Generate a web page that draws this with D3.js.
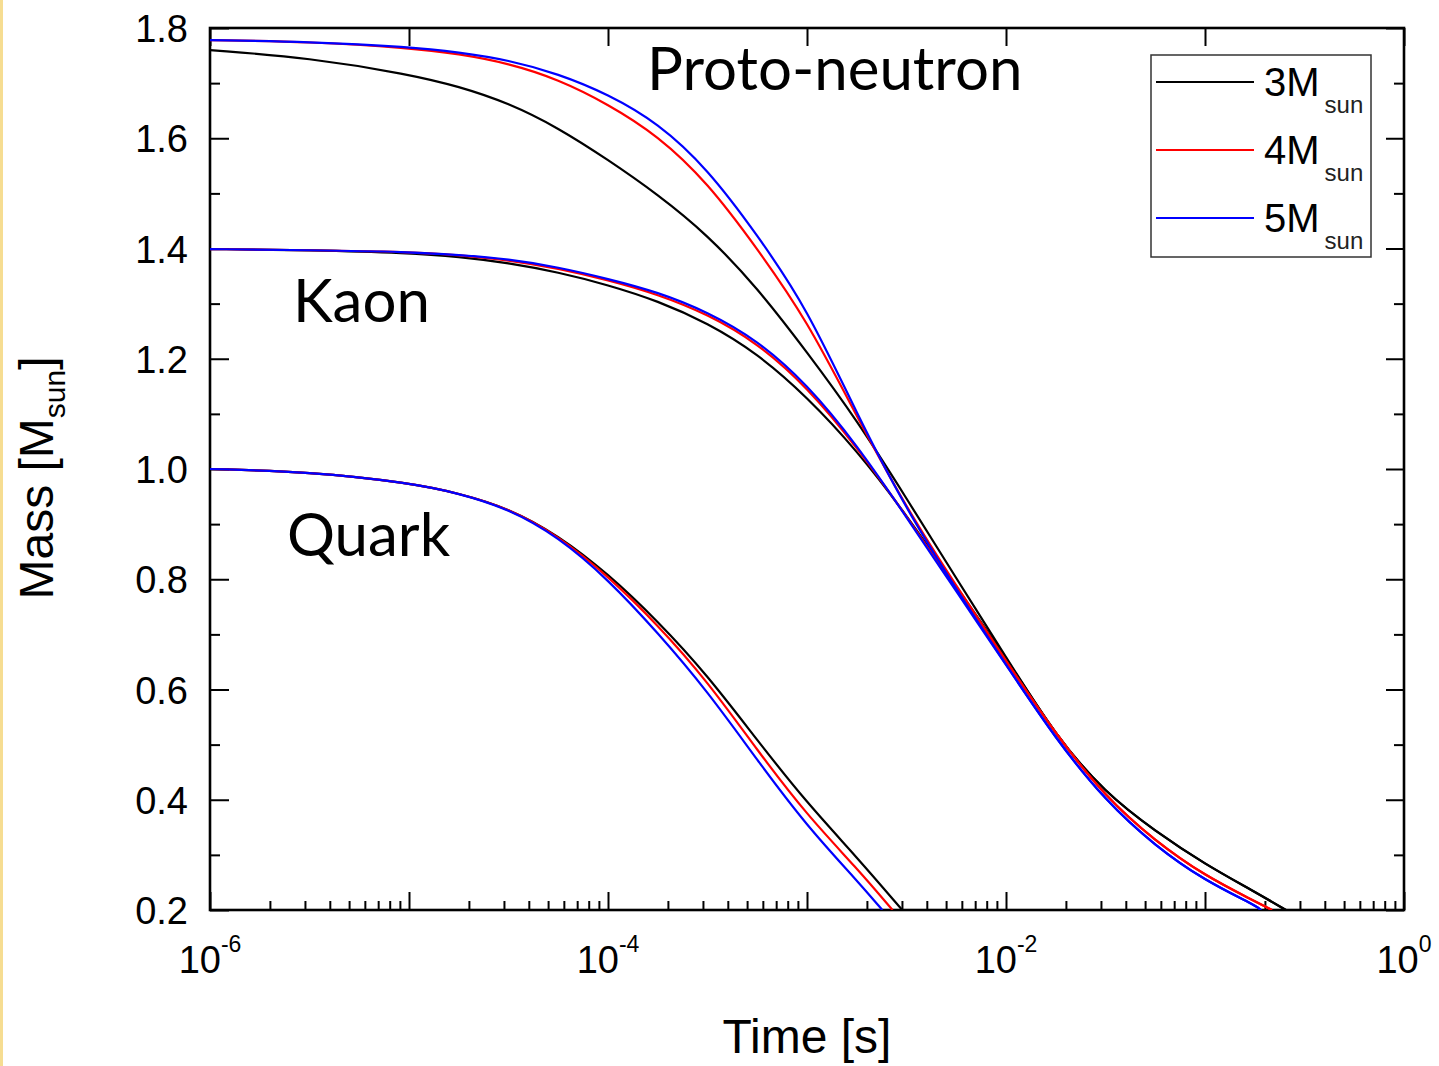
<!DOCTYPE html>
<html>
<head>
<meta charset="utf-8">
<script src="https://cdnjs.cloudflare.com/ajax/libs/d3/7.8.5/d3.min.js"></script>
<style>
  body { margin: 0; background: #fff; }
  svg { display: block; }
  .axis path { display: none; }
  .axis line { stroke: #000; stroke-width: 2; }
  .tickLabel { font-family: "Liberation Sans", Arial, sans-serif; fill: #000; }
  .note { font-family: Lato, "Open Sans", sans-serif; fill: #000; }
</style>
</head>
<body>
<div class="container"></div>
<script>
var width = 1439;
var height = 1066;
var plotLeft = 210, plotTop = 28, plotRight = 1404, plotBottom = 910;

// shared time grid [s]
var timeGrid = [1e-6, 3.16e-6, 1e-5, 1.78e-5, 3.16e-5, 5.62e-5, 1e-4, 1.78e-4, 3.16e-4, 5.62e-4,
                1e-3, 1.78e-3, 3.16e-3, 5.62e-3, 1e-2, 1.78e-2, 3.16e-2, 5.62e-2, 1e-1, 1.78e-1];

// Proto-neutron star mass [Msun]
var pn3 = [1.760, 1.746, 1.716, 1.694, 1.664, 1.619, 1.561, 1.498, 1.425, 1.329,
           1.212, 1.089, 0.947, 0.802, 0.659, 0.515, 0.412, 0.343, 0.283, 0.233];
var pn4 = [1.778, 1.775, 1.764, 1.753, 1.736, 1.707, 1.662, 1.605, 1.520, 1.400,
           1.270, 1.095, 0.929, 0.788, 0.652, 0.518, 0.405, 0.325, 0.262, 0.216];
var pn5 = [1.778, 1.775, 1.766, 1.756, 1.742, 1.717, 1.680, 1.628, 1.545, 1.425,
           1.292, 1.100, 0.926, 0.782, 0.645, 0.510, 0.398, 0.316, 0.253, 0.209];

// Kaon
var kaon3 = [1.399, 1.397, 1.392, 1.385, 1.374, 1.357, 1.334, 1.305, 1.265, 1.210,
             1.131, 1.034, 0.917, 0.786, 0.659, 0.515, 0.412, 0.343, 0.283, 0.233];
var kaon4 = [1.399, 1.397, 1.394, 1.388, 1.379, 1.364, 1.343, 1.317, 1.281, 1.229,
             1.149, 1.040, 0.915, 0.782, 0.652, 0.518, 0.405, 0.325, 0.262, 0.216];
var kaon5 = [1.399, 1.397, 1.394, 1.388, 1.381, 1.366, 1.345, 1.321, 1.285, 1.234,
             1.154, 1.044, 0.913, 0.778, 0.645, 0.510, 0.398, 0.316, 0.253, 0.209];

// Quark
var quark3 = [1.000, 0.995, 0.975, 0.956, 0.929, 0.880, 0.810, 0.724, 0.626, 0.508, 0.394, 0.296];
var quark4 = [1.000, 0.995, 0.975, 0.956, 0.929, 0.879, 0.806, 0.717, 0.615, 0.490, 0.372, 0.276];
var quark5 = [1.000, 0.995, 0.975, 0.956, 0.928, 0.877, 0.800, 0.703, 0.597, 0.472, 0.352, 0.254];

// time where each curve reaches the 0.2 bottom [PN/Kaon, Quark]
var endTime3 = [0.255, 3.01e-3];
var endTime4 = [0.217, 2.69e-3];
var endTime5 = [0.191, 2.39e-3];

var legendLabels = ["3", "4", "5"];
var colors = ["#000000", "#ff0000", "#0000ff"];
var yTicks = [0.2, 0.4, 0.6, 0.8, 1.0, 1.2, 1.4, 1.6, 1.8];
var yMinor = [0.3, 0.5, 0.7, 0.9, 1.1, 1.3, 1.5, 1.7];
var xDecades = [1e-6, 1e-5, 1e-4, 1e-3, 1e-2, 1e-1, 1e0];
var xLabels = [[1e-6, "-6"], [1e-4, "-4"], [1e-2, "-2"], [1e0, "0"]];

var translate = function(x, y) {
    return 'translate(' + x + ',' + y + ')';
};

var series = [
    {m: pn3, end: endTime3[0], c: 0}, {m: pn4, end: endTime4[0], c: 1}, {m: pn5, end: endTime5[0], c: 2},
    {m: kaon3, end: endTime3[0], c: 0}, {m: kaon4, end: endTime4[0], c: 1}, {m: kaon5, end: endTime5[0], c: 2},
    {m: quark3, end: endTime3[1], c: 0}, {m: quark4, end: endTime4[1], c: 1}, {m: quark5, end: endTime5[1], c: 2}
];

var draw = function() {
    var svg = d3.select('.container').append('svg')
        .attr('width', width)
        .attr('height', height);

    svg.append('rect').attr('width', width).attr('height', height).attr('fill', '#fff');
    svg.append('rect').attr('x', 0).attr('y', 0).attr('width', 3).attr('height', height).attr('fill', '#f6dd92');

    var x = d3.scaleLog().domain([1e-6, 1]).range([plotLeft, plotRight]);
    var y = d3.scaleLinear().domain([0.2, 1.8]).range([plotBottom, plotTop]);

    svg.append('clipPath').attr('id', 'plotClip')
        .append('rect').attr('x', plotLeft).attr('y', plotTop)
        .attr('width', plotRight - plotLeft).attr('height', plotBottom - plotTop);

    var minorX = [];
    xDecades.slice(0, -1).forEach(function(d) {
        for (var k = 2; k < 10; k++) minorX.push(d * k);
    });

    // bottom axis: inward ticks
    svg.append('g').classed('axis', true).attr('transform', translate(0, plotBottom))
        .call(d3.axisBottom(x).tickValues(minorX).tickSize(-9).tickFormat(''));
    svg.append('g').classed('axis', true).attr('transform', translate(0, plotBottom))
        .call(d3.axisBottom(x).tickValues(xDecades).tickSize(-18).tickFormat(''));
    // top axis: decades only
    svg.append('g').classed('axis', true).attr('transform', translate(0, plotTop))
        .call(d3.axisTop(x).tickValues(xDecades).tickSize(-18).tickFormat(''));

    // left axis
    svg.append('g').classed('axis', true).attr('transform', translate(plotLeft, 0))
        .call(d3.axisLeft(y).tickValues(yMinor).tickSize(-10).tickFormat(''));
    var yAxis = svg.append('g').classed('axis', true).attr('transform', translate(plotLeft, 0))
        .call(d3.axisLeft(y).tickValues(yTicks).tickSize(-19).tickPadding(22).tickFormat(d3.format('.1f')));
    yAxis.selectAll('text')
        .attr('class', 'tickLabel')
        .style('font-size', '38px')
        .attr('dy', '0.36em');
    // right axis
    svg.append('g').classed('axis', true).attr('transform', translate(plotRight, 0))
        .call(d3.axisRight(y).tickValues(yMinor).tickSize(-10).tickFormat(''));
    svg.append('g').classed('axis', true).attr('transform', translate(plotRight, 0))
        .call(d3.axisRight(y).tickValues(yTicks).tickSize(-18).tickFormat(''));

    // x labels 10^n
    var xl = svg.append('g').selectAll('text').data(xLabels).enter()
        .append('text')
        .attr('class', 'tickLabel')
        .attr('x', function(d) { return x(d[0]); })
        .attr('y', 973)
        .attr('text-anchor', 'middle')
        .style('font-size', '38px');
    xl.append('tspan').text('10');
    xl.append('tspan').attr('dy', -21).style('font-size', '23px').text(function(d) { return d[1]; });

    // frame
    svg.append('rect')
        .attr('x', plotLeft).attr('y', plotTop)
        .attr('width', plotRight - plotLeft).attr('height', plotBottom - plotTop)
        .attr('fill', 'none').attr('stroke', '#000').attr('stroke-width', 2.6);

    // curves (smoothed through the read points)
    var line = d3.line()
        .x(function(d) { return x(d[0]); })
        .y(function(d) { return y(d[1]); })
        .curve(d3.curveBasis);

    var lineGroup = svg.append('g').attr('clip-path', 'url(#plotClip)');
    [0, 1, 2].forEach(function(c) {
        series.filter(function(s) { return s.c === c; }).forEach(function(s) {
            var pts = s.m.map(function(v, i) { return [timeGrid[i], v]; })
                .filter(function(p) { return p[0] < s.end; });
            pts.push([s.end, 0.2]);
            lineGroup.append('path')
                .datum(pts)
                .attr('d', line)
                .attr('fill', 'none')
                .attr('stroke', colors[c])
                .attr('stroke-width', 2.2);
        });
    });

    // annotations
    svg.append('text').attr('class', 'note').attr('x', 647).attr('y', 90).style('font-size', '60px').text('Proto-neutron');
    svg.append('text').attr('class', 'note').attr('x', 293).attr('y', 322).style('font-size', '60px').text('Kaon');
    svg.append('text').attr('class', 'note').attr('x', 287).attr('y', 556).style('font-size', '60px').text('Quark');

    // legend
    var legend = svg.append('g');
    legend.append('rect')
        .attr('x', 1151).attr('y', 55).attr('width', 220).attr('height', 202)
        .attr('fill', '#fff').attr('stroke', '#333').attr('stroke-width', 1.5);
    var items = legend.selectAll('g.item').data(legendLabels).enter()
        .append('g').classed('item', true)
        .attr('transform', function(d, i) { return translate(0, 82 + i * 68); });
    items.append('line')
        .attr('x1', 1156).attr('x2', 1254).attr('y1', 0).attr('y2', 0)
        .attr('stroke', function(d, i) { return colors[i]; })
        .attr('stroke-width', 2);
    var lt = items.append('text').attr('class', 'tickLabel')
        .attr('x', 1264).attr('y', 14).style('font-size', '40px');
    lt.append('tspan').text(function(d) { return d + 'M'; });
    lt.append('tspan').attr('dy', 17).attr('dx', 5).style('font-size', '24px').style('fill', '#222').text('sun');

    // axis titles
    svg.append('text').attr('class', 'tickLabel')
        .attr('x', 807).attr('y', 1053).attr('text-anchor', 'middle')
        .style('font-size', '48px').text('Time [s]');

    var yt = svg.append('text').attr('class', 'tickLabel')
        .attr('transform', translate(53, 478) + ' rotate(-90)')
        .attr('text-anchor', 'middle')
        .style('font-size', '48px');
    yt.append('tspan').text('Mass [M');
    yt.append('tspan').attr('dy', 12).style('font-size', '30px').text('sun');
    yt.append('tspan').attr('dy', -12).text(']');
};

window.onload = draw;
</script>
</body>
</html>
